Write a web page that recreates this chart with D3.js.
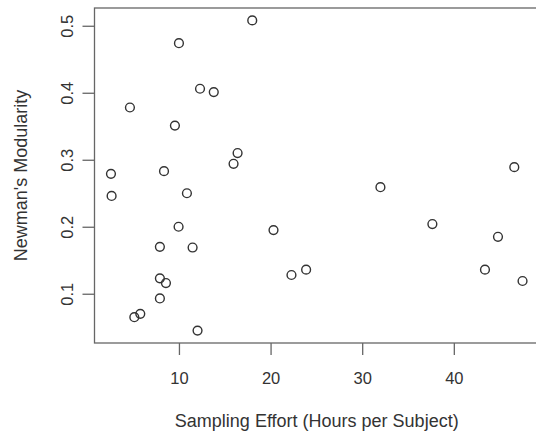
<!DOCTYPE html>
<html>
<head>
<meta charset="utf-8">
<script src="https://cdn.jsdelivr.net/npm/d3@7"></script>
<style>
  body { margin: 0; background: #fff; }
  text { font-family: "Liberation Sans", Arial, sans-serif; fill: #333; }
</style>
</head>
<body>
<div id="chart"></div>
<script>
// data
const effort = [18.0, 10.0, 12.3, 13.8, 4.65, 9.56, 16.4, 15.96, 2.58, 8.37,
                2.65, 10.87, 9.96, 7.92, 11.49, 7.92, 8.58, 7.92, 5.13, 5.78,
                12.03, 20.32, 22.28, 23.88, 31.99, 37.66, 46.6, 44.82, 43.4, 47.5];
const modularity = [0.508, 0.474, 0.406, 0.401, 0.378, 0.351, 0.310, 0.294, 0.279, 0.283,
                    0.246, 0.250, 0.200, 0.170, 0.169, 0.123, 0.116, 0.093, 0.065, 0.070,
                    0.045, 0.195, 0.128, 0.136, 0.259, 0.204, 0.289, 0.185, 0.136, 0.119];
const xTicks = [10, 20, 30, 40];
const yTicks = [0.1, 0.2, 0.3, 0.4, 0.5];
const xTitle = "Sampling Effort (Hours per Subject)";
const yTitle = "Newman's Modularity";

const W = 536, H = 433;
const plot = {left: 94.5, right: 539, top: 8, bottom: 343};

const svg = d3.select("#chart").append("svg")
    .attr("width", W).attr("height", H);

// R style: range widened by 4% each side
function pad(ext) {
    const d = (ext[1] - ext[0]) * 0.04;
    return [ext[0] - d, ext[1] + d];
}

const x = d3.scaleLinear().domain(pad(d3.extent(effort))).range([plot.left, plot.right]);
const y = d3.scaleLinear().domain(pad(d3.extent(modularity))).range([plot.bottom, plot.top]);

const pts = effort.map((e, i) => ({x: e, y: modularity[i]}));

// box
svg.append("rect")
    .attr("x", plot.left).attr("y", plot.top)
    .attr("width", plot.right - plot.left).attr("height", plot.bottom - plot.top)
    .attr("fill", "none").attr("stroke", "#666").attr("stroke-width", 1.3);

// x axis
const xAxis = svg.append("g")
    .attr("transform", "translate(0," + plot.bottom + ")")
    .call(d3.axisBottom(x).tickValues(xTicks).tickSize(12).tickPadding(8).tickFormat(d3.format("d")));
xAxis.select(".domain").remove();
xAxis.selectAll("line").attr("stroke", "#666").attr("stroke-width", 1.3);
xAxis.selectAll("text").attr("font-size", 16.5).attr("fill", "#333")
    .attr("font-family", "Liberation Sans, Arial, sans-serif")
    .attr("y", 35).attr("dy", "0.35em");

// y axis, labels rotated like R's default
const yAxis = svg.append("g")
    .attr("transform", "translate(" + plot.left + ",0)")
    .call(d3.axisLeft(y).tickValues(yTicks).tickSize(12).tickFormat(d3.format(".1f")));
yAxis.select(".domain").remove();
yAxis.selectAll("line").attr("stroke", "#666").attr("stroke-width", 1.3);
yAxis.selectAll("text")
    .attr("font-size", 16.5).attr("fill", "#333")
    .attr("font-family", "Liberation Sans, Arial, sans-serif")
    .attr("x", null).attr("dy", null)
    .attr("text-anchor", "middle")
    .attr("transform", "translate(-22,0) rotate(-90)");

// titles
svg.append("text")
    .attr("x", (plot.left + plot.right) / 2).attr("y", 421)
    .attr("dy", "0.35em").attr("text-anchor", "middle")
    .attr("font-size", 18).text(xTitle);

svg.append("text")
    .attr("transform", "translate(21," + (plot.top + plot.bottom) / 2 + ") rotate(-90)")
    .attr("dy", "0.35em").attr("text-anchor", "middle")
    .attr("font-size", 18).text(yTitle);

// points
svg.append("g").selectAll("circle")
    .data(pts)
    .join("circle")
    .attr("cx", d => x(d.x))
    .attr("cy", d => y(d.y))
    .attr("r", 4.4)
    .attr("fill", "none")
    .attr("stroke", "#333")
    .attr("stroke-width", 1.4);
</script>
</body>
</html>
